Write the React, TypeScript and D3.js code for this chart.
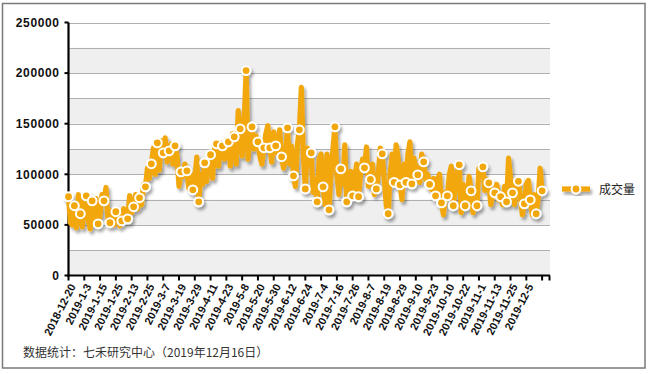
import React, { useEffect, useRef } from 'react';
import * as d3 from 'd3';

// tick labels, one every 8 trading days
const tickLabels = [
  '2018-12-20', '2019-1-3', '2019-1-15', '2019-1-25', '2019-2-13', '2019-2-25',
  '2019-3-7', '2019-3-19', '2019-3-29', '2019-4-11', '2019-4-23', '2019-5-8',
  '2019-5-20', '2019-5-30', '2019-6-12', '2019-6-24', '2019-7-4', '2019-7-16',
  '2019-7-26', '2019-8-7', '2019-8-19', '2019-8-29', '2019-9-10', '2019-9-23',
  '2019-10-10', '2019-10-22', '2019-11-1', '2019-11-13', '2019-11-25', '2019-12-5', '',
];

// 成交量, daily values
const volume = [
  77800, 52000, 50000, 68900, 47000, 80000, 61000, 48000, 77000, 78700,
  55000, 46000, 73800, 52000, 76000, 51100, 60000, 80000, 73800, 87000,
  55000, 52100, 64000, 50000, 63000, 58000, 49000, 54000, 66000, 58000,
  56000, 79000, 62000, 67900, 80000, 66000, 76800, 70000, 90000, 87600,
  106000, 96000, 110400, 126000, 100000, 131100, 104000, 133000, 121200, 136000,
  112000, 123200, 130000, 110000, 128100, 118000, 88000, 102400, 98000, 110000,
  103400, 86000, 100000, 84700, 95000, 117000, 72800, 100000, 90000, 111300,
  93000, 118000, 119300, 96000, 126000, 130100, 108000, 131000, 128100, 115000,
  134000, 132100, 108000, 140000, 137000, 110000, 163000, 144900, 118000, 150000,
  202500, 115000, 140000, 146900, 125000, 138000, 132100, 118000, 110000, 126200,
  140000, 148000, 126200, 112000, 142000, 128100, 120000, 144000, 117300, 106000,
  120000, 145900, 110000, 128000, 98500, 88000, 130000, 143900, 186000, 120000,
  85500, 126000, 110000, 121200, 82000, 95000, 72800, 115000, 120000, 87600,
  70000, 120000, 64900, 100000, 125000, 146900, 100000, 80000, 105400, 90000,
  129000, 72800, 90000, 103000, 78700, 95000, 110000, 77800, 100000, 115000,
  106400, 127000, 88000, 94900, 110000, 80000, 85500, 100000, 126000, 120200,
  95000, 70000, 61000, 100000, 120000, 92100, 129000, 118000, 89600, 75000,
  110000, 92100, 120000, 132000, 90600, 116000, 106000, 99500, 92000, 120000,
  112300, 95000, 100000, 90100, 85000, 96000, 78700, 95000, 100000, 71800,
  60000, 82000, 78700, 100000, 108000, 68900, 85000, 104000, 109400, 62000,
  90000, 68900, 75000, 98000, 83700, 62000, 75000, 68900, 106000, 100000,
  107400, 84000, 95000, 91600, 70000, 80000, 81700, 90000, 75000, 77800,
  70000, 88000, 72800, 116000, 95000, 81700, 70000, 95000, 93100, 78000,
  60000, 70800, 90000, 94000, 74800, 60000, 80000, 61000, 75000, 106000,
  83700,
];

const yTicks = [0, 50000, 100000, 150000, 200000, 250000];
const seriesName = '成交量';
const footnote = '数据统计：七禾研究中心（2019年12月16日）';

const W = 649;
const H = 374;
const ORANGE = '#f2a70d';

const App: React.FC = () => {
  const svgRef = useRef<SVGSVGElement>(null);

  useEffect(() => {
    if (!svgRef.current) return;
    const svg = d3.select(svgRef.current);
    svg.selectAll('*').remove();

    const left = 68.5;
    const right = 550;
    const top = 22.5;
    const bottom = 275.5;

    const x = d3.scaleLinear().domain([0, 244]).range([left, right]);
    const y = d3.scaleLinear().domain([0, 250000]).range([bottom, top]);

    const defs = svg.append('defs');
    const f = defs.append('filter').attr('id', 'shadow')
      .attr('x', '-10%').attr('y', '-10%').attr('width', '130%').attr('height', '130%');
    f.append('feDropShadow')
      .attr('dx', 2).attr('dy', 3).attr('stdDeviation', 1.6)
      .attr('flood-color', '#000').attr('flood-opacity', 0.35);

    // outer frame
    svg.append('rect')
      .attr('x', 2.5).attr('y', 3.5).attr('width', 642.5).attr('height', 364.5)
      .attr('fill', '#fff').attr('stroke', '#7a7a7a').attr('stroke-width', 1.5);

    // alternating bands
    const bandStarts = d3.range(0, 250000, 50000);
    svg.append('g').selectAll('rect').data(bandStarts).enter().append('rect')
      .attr('x', left).attr('width', right - left)
      .attr('y', d => y(d + 25000)).attr('height', d => y(d) - y(d + 25000))
      .attr('fill', '#efefef');

    // grid lines every 25000
    svg.append('g').selectAll('line').data(d3.range(25000, 250001, 25000)).enter().append('line')
      .attr('x1', left).attr('x2', right)
      .attr('y1', d => Math.round(y(d)) + 0.5).attr('y2', d => Math.round(y(d)) + 0.5)
      .attr('stroke', '#b0b0b0').attr('stroke-width', 1);

    // axes
    const axisFont = 'Arial, "Liberation Sans", sans-serif';
    svg.append('line')
      .attr('x1', left).attr('x2', left).attr('y1', top).attr('y2', bottom + 1)
      .attr('stroke', '#000').attr('stroke-width', 2.2);
    svg.append('line')
      .attr('x1', left - 1).attr('x2', right).attr('y1', bottom).attr('y2', bottom)
      .attr('stroke', '#000').attr('stroke-width', 2.2);

    const yt = svg.append('g').selectAll('g').data(yTicks).enter().append('g');
    yt.append('line')
      .attr('x1', left - 4).attr('x2', left)
      .attr('y1', d => y(d)).attr('y2', d => y(d))
      .attr('stroke', '#000').attr('stroke-width', 2);
    yt.append('text')
      .attr('x', left - 9).attr('y', d => y(d)).attr('dy', '0.36em')
      .attr('text-anchor', 'end')
      .style('font-family', axisFont).style('font-size', '12px').style('font-weight', 'bold')
      .style('letter-spacing', '0.6px')
      .attr('fill', '#111')
      .text(d => String(d));

    const tickIdx = tickLabels.map((_, k) => k * 8);
    const xt = svg.append('g').selectAll('g').data(tickIdx).enter().append('g');
    xt.append('line')
      .attr('x1', d => x(d)).attr('x2', d => x(d))
      .attr('y1', bottom).attr('y2', bottom + 5)
      .attr('stroke', '#000').attr('stroke-width', 2);
    svg.append('line')
      .attr('x1', right - 0.5).attr('x2', right - 0.5).attr('y1', bottom).attr('y2', bottom + 5)
      .attr('stroke', '#000').attr('stroke-width', 2);
    xt.append('text')
      .attr('transform', d => `translate(${x(d) + 4},${bottom + 9}) rotate(-63)`)
      .attr('text-anchor', 'end')
      .attr('dy', '0.35em')
      .style('font-family', axisFont).style('font-size', '11px').style('font-weight', 'bold')
      .attr('fill', '#111')
      .text((_, k) => tickLabels[k]);

    // series line, drawn over the axes
    const line = d3.line<number>()
      .x((_, i) => x(i))
      .y(d => y(d));

    const series = svg.append('g').attr('filter', 'url(#shadow)');
    series.append('path')
      .datum(volume)
      .attr('d', line)
      .attr('fill', 'none')
      .attr('stroke', ORANGE)
      .attr('stroke-width', 5.2)
      .attr('stroke-linejoin', 'round');

    const markers = volume.map((v, i) => ({ v, i })).filter(d => d.i % 3 === 0);
    series.selectAll('circle').data(markers).enter().append('circle')
      .attr('cx', d => x(d.i)).attr('cy', d => y(d.v))
      .attr('r', 4.4)
      .attr('fill', ORANGE).attr('stroke', '#fff').attr('stroke-width', 2);

    // legend
    const lg = svg.append('g').attr('filter', 'url(#shadow)');
    lg.append('line')
      .attr('x1', 562).attr('x2', 590).attr('y1', 189).attr('y2', 189)
      .attr('stroke', ORANGE).attr('stroke-width', 5.2);
    lg.append('circle')
      .attr('cx', 576).attr('cy', 189).attr('r', 4.4)
      .attr('fill', ORANGE).attr('stroke', '#fff').attr('stroke-width', 2);
    svg.append('text')
      .attr('x', 599).attr('y', 189).attr('dy', '0.38em')
      .style('font-family', '"Noto Sans CJK SC", sans-serif').style('font-size', '12px')
      .attr('fill', '#222')
      .text(seriesName);

    // footnote
    svg.append('text')
      .attr('x', 23).attr('y', 357)
      .style('font-family', '"Noto Sans CJK SC", sans-serif').style('font-size', '12px')
      .attr('fill', '#333')
      .text(footnote);
  }, []);

  return (
    <svg ref={svgRef} width={W} height={H}
      style={{ position: 'absolute', left: 0, top: 0, background: '#fff' }} />
  );
};

export default App;
